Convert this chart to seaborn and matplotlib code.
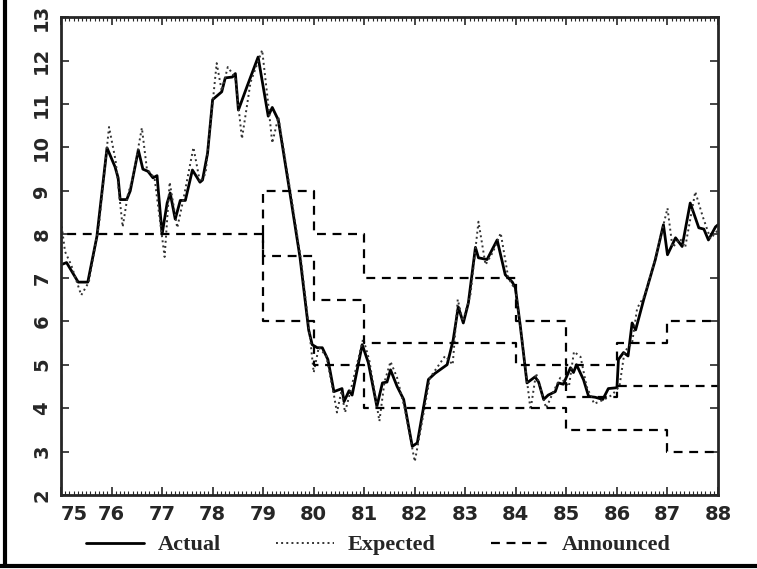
import numpy as np
import matplotlib
matplotlib.use("Agg")
import matplotlib.pyplot as plt
from matplotlib.ticker import MultipleLocator
from matplotlib.lines import Line2D
import seaborn as sns

# actual money growth
act_t = [1975.00, 1975.11, 1975.34, 1975.53, 1975.71, 1975.91, 1976.07, 1976.13, 1976.17, 1976.30,
         1976.37, 1976.53, 1976.62, 1976.72, 1976.82, 1976.90, 1977.00, 1977.10, 1977.16, 1977.26,
         1977.36, 1977.46, 1977.60, 1977.75, 1977.80, 1977.90, 1978.00, 1978.18, 1978.25, 1978.39,
         1978.45, 1978.51, 1978.68, 1978.90, 1979.10, 1979.18, 1979.30, 1979.53, 1979.73, 1979.90,
         1979.97, 1980.07, 1980.17, 1980.28, 1980.33, 1980.40, 1980.56, 1980.60, 1980.70, 1980.76,
         1980.96, 1981.08, 1981.25, 1981.36, 1981.45, 1981.52, 1981.65, 1981.78, 1981.95, 1982.05,
         1982.27, 1982.40, 1982.64, 1982.76, 1982.86, 1982.96, 1983.06, 1983.20, 1983.26, 1983.43,
         1983.63, 1983.79, 1983.93, 1983.99, 1984.09, 1984.22, 1984.38, 1984.45, 1984.55, 1984.64,
         1984.78, 1984.84, 1984.94, 1985.08, 1985.14, 1985.20, 1985.34, 1985.44, 1985.57, 1985.72,
         1985.83, 1986.00, 1986.03, 1986.13, 1986.22, 1986.30, 1986.37, 1986.53, 1986.76, 1986.92,
         1987.00, 1987.16, 1987.29, 1987.45, 1987.62, 1987.72, 1987.81, 1987.95, 1988.00]
act_v = [7.30, 7.35, 6.90, 6.90, 7.95, 9.99, 9.55, 9.30, 8.80, 8.80,
         9.00, 9.94, 9.50, 9.45, 9.30, 9.35, 8.00, 8.72, 8.95, 8.35,
         8.78, 8.78, 9.48, 9.20, 9.25, 9.87, 11.10, 11.28, 11.60, 11.62,
         11.70, 10.86, 11.40, 12.08, 10.72, 10.92, 10.63, 8.95, 7.46, 5.80,
         5.46, 5.39, 5.39, 5.12, 4.82, 4.38, 4.45, 4.15, 4.40, 4.30,
         5.46, 5.05, 4.04, 4.58, 4.60, 4.88, 4.50, 4.20, 3.12, 3.20,
         4.66, 4.80, 5.00, 5.57, 6.33, 5.96, 6.42, 7.70, 7.46, 7.42,
         7.87, 7.07, 6.90, 6.77, 5.87, 4.58, 4.72, 4.60, 4.20, 4.30,
         4.38, 4.58, 4.55, 4.93, 4.82, 5.00, 4.65, 4.27, 4.25, 4.20,
         4.45, 4.47, 5.12, 5.28, 5.20, 5.96, 5.80, 6.50, 7.42, 8.22,
         7.53, 7.92, 7.72, 8.72, 8.15, 8.12, 7.87, 8.17, 8.22]

# expected money growth
exp_t = [1975.00, 1975.08, 1975.20, 1975.40, 1975.55, 1975.75, 1975.95, 1976.08, 1976.22, 1976.32,
         1976.42, 1976.60, 1976.70, 1976.85, 1977.05, 1977.15, 1977.30, 1977.42, 1977.62, 1977.75,
         1977.86, 1978.08, 1978.18, 1978.30, 1978.45, 1978.58, 1978.75, 1978.98, 1979.10, 1979.18,
         1979.30, 1979.55, 1979.75, 1979.92, 1980.00, 1980.10, 1980.25, 1980.40, 1980.46, 1980.55,
         1980.62, 1980.75, 1980.98, 1981.10, 1981.30, 1981.40, 1981.52, 1981.65, 1981.80, 1982.00,
         1982.10, 1982.30, 1982.60, 1982.75, 1982.85, 1982.95, 1983.10, 1983.26, 1983.40, 1983.55,
         1983.70, 1983.85, 1984.00, 1984.12, 1984.29, 1984.40, 1984.50, 1984.60, 1984.75, 1984.88,
         1985.05, 1985.15, 1985.28, 1985.40, 1985.55, 1985.75, 1985.90, 1986.05, 1986.15, 1986.30,
         1986.40, 1986.55, 1986.75, 1987.00, 1987.10, 1987.25, 1987.35, 1987.55, 1987.70, 1987.85,
         1988.00]
exp_v = [8.30, 7.60, 7.30, 6.60, 6.90, 8.20, 10.47, 9.70, 8.17, 8.90,
         9.30, 10.45, 9.50, 9.30, 7.48, 9.20, 8.15, 8.80, 10.00, 9.20,
         9.40, 11.94, 11.30, 11.85, 11.60, 10.20, 11.50, 12.24, 11.00, 10.10,
         10.70, 8.90, 7.40, 5.70, 4.82, 5.40, 5.20, 4.30, 3.90, 4.40,
         3.90, 4.50, 5.60, 5.10, 3.70, 4.60, 5.07, 4.70, 4.00, 2.77,
         3.40, 4.70, 5.20, 5.00, 6.50, 6.00, 6.60, 8.29, 7.30, 7.60,
         8.03, 7.00, 6.70, 5.60, 3.96, 4.80, 4.40, 4.00, 4.40, 4.70,
         4.50, 5.30, 5.18, 4.50, 4.10, 4.20, 4.30, 4.50, 5.30, 5.50,
         6.30, 6.60, 7.40, 8.60, 7.70, 7.90, 7.70, 8.98, 8.40, 7.90,
         8.10]

# announced target corridors (start of each target period)
ann_years = [1975, 1979, 1980, 1981, 1984, 1985, 1986, 1987, 1988]
ann_upper = [8, 9, 8, 7, 6, 5, 5.5, 6]
ann_mid = [8, 7.5, 6.5, 5.5, 5, 4.25, 4.5, 4.5]
ann_lower = [8, 6, 5, 4, 4, 3.5, 3.5, 3]
ann_start = 0.0

year_ticks = list(range(1975, 1989))
year_labels = [str(y - 1900) for y in year_ticks]
y_ticks = list(range(2, 14))

sns.set_style("ticks")
fig = plt.figure(figsize=(7.57, 5.69), dpi=100)
ax = fig.add_axes([0.0806, 0.130, 0.8679, 0.840])

dash = (0, (4, 3))
sns.lineplot(x=act_t, y=act_v, ax=ax, color="black", lw=2.0, estimator=None, label="Actual")
sns.lineplot(x=exp_t, y=exp_v, ax=ax, color="#333333", lw=1.4, linestyle=":", estimator=None,
             label="Expected")

# single target up to 1979 (drawn once), corridor lines split off afterwards
for i, vals in enumerate([ann_lower, ann_upper, ann_mid]):
    if i == 0:
        xs = [ann_years[0]] + list(ann_years)
        ys = [ann_start] + list(vals) + [vals[-1]]
    else:
        xs = [ann_years[1]] + list(ann_years[1:])
        ys = [vals[0]] + list(vals[1:]) + [vals[-1]]
    ax.plot(xs, ys, color="black", lw=1.6, linestyle=dash, drawstyle="steps-post",
            label="Announced" if i == 0 else None)

ax.set_xlim(1975, 1988)
ax.set_ylim(2, 13)
ax.set_xticks(year_ticks)
ax.set_xticklabels(year_labels)
ax.xaxis.set_minor_locator(MultipleLocator(1 / 12))
ax.set_yticks(y_ticks)
ax.set_yticklabels([str(v) for v in y_ticks], rotation=90, va="center")
ax.tick_params(which="major", direction="in", length=6, width=1.2, top=True, right=True,
               labelsize=14, pad=7)
ax.tick_params(which="minor", direction="in", length=3, width=0.8, top=True, bottom=True)
for lab in ax.get_xticklabels() + ax.get_yticklabels():
    lab.set_fontweight("bold")
ax.get_xticklabels()[0].set_horizontalalignment("left")
for sp in ax.spines.values():
    sp.set_linewidth(2)
ax.set_xlabel("")
ax.set_ylabel("")

handles, labels = ax.get_legend_handles_labels()
if ax.legend_:
    ax.legend_.remove()
fig.legend(handles, labels, loc="center", bbox_to_anchor=(0.5, 0.042), ncol=3, frameon=False,
           prop={"family": "Liberation Serif", "weight": "bold", "size": 16},
           handlelength=2.6, handletextpad=0.6, columnspacing=2.5)

# outer frame of the scanned page
fig.add_artist(Line2D([0.007, 0.007], [0.005, 1.0], transform=fig.transFigure, color="black", lw=3))
fig.add_artist(Line2D([0.0, 1.0], [0.005, 0.005], transform=fig.transFigure, color="black", lw=3))

fig.savefig("out.png", dpi=100)
